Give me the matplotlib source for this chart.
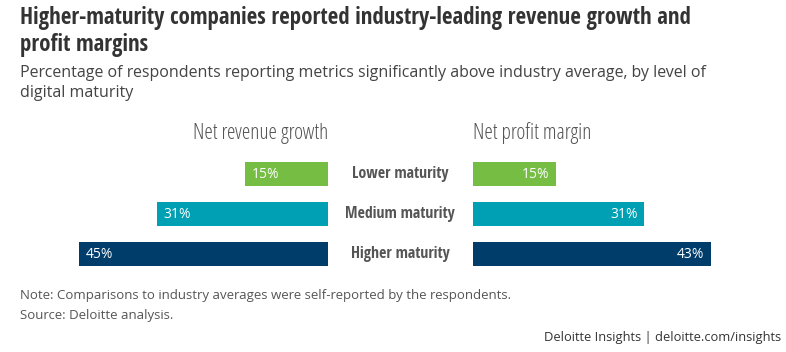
import matplotlib.pyplot as plt
from matplotlib import font_manager
from matplotlib.font_manager import FontProperties

# datos
categorias = ["Lower maturity", "Medium maturity", "Higher maturity"]
crecimiento_ingresos = [15, 31, 45]
margen_beneficio = [15, 31, 43]
colores = ["#75BD43", "#00A0B4", "#003D6B"]

titulo = "Higher-maturity companies reported industry-leading revenue growth and\nprofit margins"
subtitulo = ("Percentage of respondents reporting metrics significantly above industry average, by level of\n"
             "digital maturity")
nota = "Note: Comparisons to industry averages were self-reported by the respondents."
fuente = "Source: Deloitte analysis."
credito = "Deloitte Insights | deloitte.com/insights"


def buscar_fuente(archivo):
    # buscar el archivo concreto de Open Sans
    for f in font_manager.fontManager.ttflist:
        if f.fname.endswith(archivo):
            return f.fname
    return None


rutas = {
    'ligera': buscar_fuente('OpenSans-CondLight.ttf'),
    'negrita': buscar_fuente('OpenSans-CondBold.ttf'),
    'normal': buscar_fuente('OpenSans-Regular.ttf'),
}


def fp(tam, tipo='ligera'):
    ruta = rutas[tipo]
    if ruta:
        return FontProperties(fname=ruta, size=tam)
    return FontProperties(family='DejaVu Sans', size=tam * 0.85,
                          weight='bold' if tipo == 'negrita' else 'normal')


W, H = 786, 352
fig = plt.figure(figsize=(W / 100, H / 100), dpi=100)


def caja(x0, y0, x1, y1):
    # coordenadas en pixeles desde arriba a la izquierda
    return [x0 / W, 1 - y1 / H, (x1 - x0) / W, (y1 - y0) / H]


def fy(y):
    return 1 - y / H


escala = 5.53  # px por punto porcentual
ax_izq = fig.add_axes(caja(328 - 50 * escala, 154, 328, 274))
ax_der = fig.add_axes(caja(473, 154, 473 + 50 * escala, 274))

for ax in (ax_izq, ax_der):
    ax.set_ylim(2.5, -0.5)
    ax.set_xlim(0, 50)
    ax.axis('off')
ax_izq.invert_xaxis()

pos = range(len(categorias))
ax_izq.barh(pos, crecimiento_ingresos, height=0.58, color=colores)
ax_der.barh(pos, margen_beneficio, height=0.58, color=colores)

for i, v in enumerate(crecimiento_ingresos):
    ax_izq.text(v - 1.2, i, f"{v}%", ha='left', va='center', color='white',
                fontproperties=fp(10, 'normal'))
for i, v in enumerate(margen_beneficio):
    ax_der.text(v - 1.2, i, f"{v}%", ha='right', va='center', color='white',
                fontproperties=fp(10, 'normal'))

# etiquetas centrales
for i, c in enumerate(categorias):
    fig.text(400 / W, fy(174 + 40 * i), c, ha='center', va='center',
             fontproperties=fp(11.4, 'negrita'), color='#555555')

fig.text(328 / W, fy(133), "Net revenue growth", ha='right', va='center',
         fontproperties=fp(15.5), color='#555555')
fig.text(473 / W, fy(133), "Net profit margin", ha='left', va='center',
         fontproperties=fp(15.5), color='#555555')

fig.text(20 / W, fy(6), titulo, ha='left', va='top', fontproperties=fp(16.5, 'negrita'),
         color='#333333', linespacing=1.15)
fig.text(20 / W, fy(65), subtitulo, ha='left', va='top', fontproperties=fp(11.5, 'normal'),
         color='#444444', linespacing=1.3)
fig.text(20 / W, fy(295), nota, ha='left', va='center', fontproperties=fp(9.5, 'normal'),
         color='#555555')
fig.text(20 / W, fy(316), fuente, ha='left', va='center', fontproperties=fp(9.5, 'normal'),
         color='#555555')
fig.text(781 / W, fy(337), credito, ha='right', va='center', fontproperties=fp(9.3, 'normal'),
         color='#333333')

fig.savefig("out.png", dpi=100, facecolor='white')
